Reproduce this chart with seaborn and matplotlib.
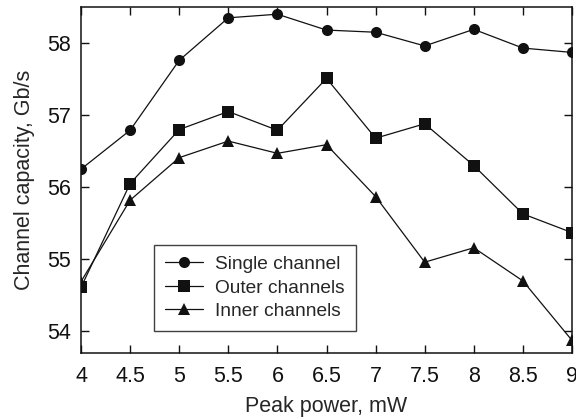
import matplotlib
matplotlib.use("Agg")
import matplotlib.pyplot as plt
import seaborn as sns
import pandas as pd

power = [4, 4.5, 5, 5.5, 6, 6.5, 7, 7.5, 8, 8.5, 9]
single = [56.25, 56.79, 57.76, 58.35, 58.40, 58.18, 58.15, 57.96, 58.19, 57.93, 57.87]
outer = [54.61, 56.05, 56.80, 57.05, 56.79, 57.51, 56.68, 56.88, 56.30, 55.63, 55.37]
inner = [54.69, 55.82, 56.41, 56.64, 56.47, 56.59, 55.87, 54.96, 55.16, 54.70, 53.875]
series_names = ["Single channel", "Outer channels", "Inner channels"]
xticks = [4, 4.5, 5, 5.5, 6, 6.5, 7, 7.5, 8, 8.5, 9]
xticklabels = ["4", "4.5", "5", "5.5", "6", "6.5", "7", "7.5", "8", "8.5", "9"]
yticks = [54, 55, 56, 57, 58]

df = pd.DataFrame({
    "power": power * 3,
    "capacity": single + outer + inner,
    "series": [series_names[0]] * 11 + [series_names[1]] * 11 + [series_names[2]] * 11,
})

sns.set_style("ticks")
plt.rcParams["font.family"] = ["Liberation Sans", "DejaVu Sans"]

fig = plt.figure(figsize=(5.76, 4.19), dpi=100)
ax = fig.add_axes([81 / 576, 1 - 353 / 419, (572 - 81) / 576, (353 - 7) / 419])

sns.lineplot(data=df, x="power", y="capacity", hue="series", style="series",
             palette=["#111111"] * 3, markers=["o", "s", "^"], dashes=False,
             markersize=8, linewidth=0.9, markeredgewidth=0, ax=ax, legend=True)

ax.set_xlim(4, 9)
ax.set_ylim(53.7, 58.5)
ax.set_xticks(xticks)
ax.set_xticklabels(xticklabels)
ax.set_yticks(yticks)
ax.tick_params(direction="in", top=True, right=True, labeltop=False, labelright=False,
               length=6, width=1, labelsize=15.5, colors="#111111")
ax.tick_params(axis="x", pad=9)
ax.tick_params(axis="y", pad=7)
for s in ax.spines.values():
    s.set_linewidth(1.1)
    s.set_color("#111111")
ax.set_xlabel("Peak power, mW", fontsize=15.5, labelpad=7)
ax.set_ylabel("Channel capacity, Gb/s", fontsize=15.5, labelpad=9)

leg = ax.legend(loc="upper left", bbox_to_anchor=((154 - 81) / 491, (353 - 245) / 346),
                fontsize=13.8, frameon=True, fancybox=False, edgecolor="#111111",
                handlelength=2.0, borderpad=0.55, labelspacing=0.32, handletextpad=0.65,
                borderaxespad=0)
leg.get_frame().set_linewidth(1.0)

fig.savefig("out.png", dpi=100)
